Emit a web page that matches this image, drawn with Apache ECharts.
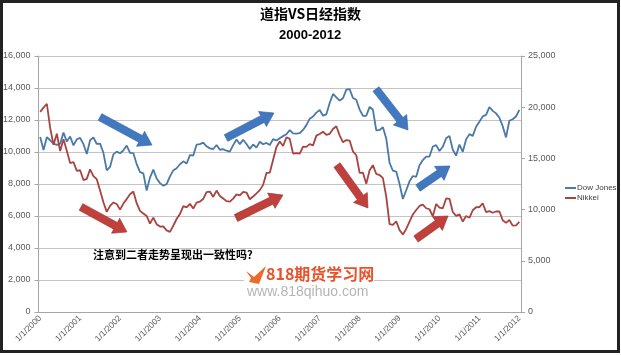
<!DOCTYPE html>
<html><head><meta charset="utf-8">
<script src="https://cdn.jsdelivr.net/npm/echarts@6/dist/echarts.min.js"></script>
<style>html,body{margin:0;padding:0;background:#fff}#c{width:621px;height:355px}</style>
</head><body><div id="c"></div>
<script>
// Monthly categories Jan 2000 .. Jan 2012 (labels in M/D/YYYY form)
const years = [2000,2001,2002,2003,2004,2005,2006,2007,2008,2009,2010,2011,2012];
const categories = [];
years.forEach(y => { for (let m = 1; m <= 12; m++) { if (y === 2012 && m > 1) break; categories.push(m + '/1/' + y); } });

// Dow Jones monthly closes (left axis)
const dowJones = [
  10940,10128,10922,10734,10522,10448,10522,11215,10651,10971,10415,10788,
  10887,10495,9879,10735,10912,10502,10523,9950,8848,9075,9852,10022,
  9920,10106,10404,9946,9925,9243,8737,8664,7592,8397,8896,8342,
  8054,7891,7992,8480,8850,8985,9234,9416,9275,9801,9782,10454,
  10488,10584,10358,10226,10188,10435,10140,10174,10080,10027,10428,10783,
  10490,10766,10504,10193,10467,10275,10641,10482,10569,10440,10806,10718,
  10865,10993,11109,11367,11168,11150,11186,11381,11679,12081,12221,12463,
  12622,12269,12354,13063,13628,13409,13212,13358,13896,13930,13372,13265,
  12650,12266,12263,12820,12638,11350,11378,11544,10851,9325,8829,8776,
  8001,7063,7609,8168,8500,8447,9172,9496,9712,9713,10345,10428,
  10067,10325,10857,11009,10137,9774,10466,10015,10788,11118,11006,11578,
  11892,12226,12320,12811,12570,12414,12143,11614,10913,11955,12046,12218,
  12633
];
// Nikkei 225 monthly closes (right axis)
const nikkei = [
  19540,19960,20337,17974,16332,17411,15727,16861,15747,14539,14649,13786,
  13843,12884,12999,13934,13262,12969,11861,10714,9775,10367,10697,10543,
  9998,10588,11025,11493,11764,10622,9877,9619,9383,8640,9216,8579,
  8340,8363,7973,7831,8425,9083,9563,10344,10219,10560,10101,10677,
  10784,11042,11715,11762,11237,11858,11326,11082,10824,10771,11069,11489,
  11388,11741,11669,11009,11277,11584,11900,12414,13574,13607,14872,16111,
  16650,16206,17060,16907,15467,15505,15457,16141,16128,16399,16274,17226,
  17383,17604,17288,17400,17876,18138,17249,16569,16786,16738,15681,15308,
  13592,13603,12526,13850,14339,13481,13377,13073,11260,8577,8512,8860,
  7994,7568,8110,8828,9523,9958,10357,10493,10133,10035,9346,10546,
  10198,10126,11090,11057,9769,9383,9537,8824,9369,9202,9937,10229,
  10238,10624,9755,9850,9694,9816,9833,8955,8700,8988,8435,8455,
  8803
];
const seriesNames = ['Dow Jones', 'Nikkei'];
const titleLines = ['道指VS日经指数', '2000-2012'];
const noteText = '注意到二者走势呈现出一致性吗？';

function arrow(x1, y1, x2, y2, fill, stroke) {
  const dx = x2 - x1, dy = y2 - y1, L = Math.hypot(dx, dy);
  const ux = dx / L, uy = dy / L, nx = -uy, ny = ux;
  const hw = 3.8, HW = 8.5, HL = 13;
  const bx = x2 - ux * HL, by = y2 - uy * HL;
  const pts = [
    [x1 + nx * hw, y1 + ny * hw], [bx + nx * hw, by + ny * hw], [bx + nx * HW, by + ny * HW],
    [x2, y2], [bx - nx * HW, by - ny * HW], [bx - nx * hw, by - ny * hw], [x1 - nx * hw, y1 - ny * hw]
  ];
  return { type: 'polygon', shape: { points: pts }, style: { fill: fill, stroke: stroke, lineWidth: 0.6 }, z: 20 };
}
const BLUE = '#4178c0', BLUE_S = '#2f5f9e', RED = '#c0403c', RED_S = '#9a2f2c';

const chart = echarts.init(document.getElementById('c'), null, { renderer: 'canvas' });
const axisLabelStyle = { color: '#595959', fontSize: 9, fontFamily: 'Liberation Sans, Arial, sans-serif' };
chart.setOption({
  animation: false,
  backgroundColor: '#fff',
  textStyle: { fontFamily: 'Liberation Sans, Arial, sans-serif' },
  grid: { left: 37, right: 100, top: 56, bottom: 43, containLabel: false },
  legend: {
    data: seriesNames, orient: 'vertical', left: 565, top: 183, padding: 0,
    icon: 'rect', itemWidth: 11, itemHeight: 2, itemGap: 0,
    textStyle: { fontSize: 8, fontFamily: 'Liberation Sans, Arial, sans-serif',
      color: '#404040', lineHeight: 10, padding: [0, 0, 0, -4] }
  },
  xAxis: {
    type: 'category', data: categories, boundaryGap: true,
    axisLine: { lineStyle: { color: '#a6a6a6' } },
    axisTick: { interval: 11, length: 4, lineStyle: { color: '#a6a6a6' } },
    axisLabel: { interval: 11, rotate: 45, margin: 5, fontSize: 8.5, color: '#595959' }
  },
  yAxis: [
    {
      type: 'value', min: 0, max: 16000, interval: 2000, position: 'left',
      axisLine: { show: true, lineStyle: { color: '#a6a6a6' } },
      axisTick: { show: true, length: 4, lineStyle: { color: '#a6a6a6' } },
      axisLabel: Object.assign({ margin: 8 }, axisLabelStyle),
      splitLine: { show: true, lineStyle: { color: '#c4c4c4', width: 1 } }
    },
    {
      type: 'value', min: 0, max: 25000, interval: 5000, position: 'right',
      axisLine: { show: true, lineStyle: { color: '#a6a6a6' } },
      axisTick: { show: true, length: 4, lineStyle: { color: '#a6a6a6' } },
      axisLabel: Object.assign({ margin: 7 }, axisLabelStyle),
      splitLine: { show: false }
    }
  ],
  series: [
    { name: seriesNames[0], type: 'line', yAxisIndex: 0, data: dowJones, showSymbol: false, symbol: 'none',
      lineStyle: { color: '#4a78a8', width: 1.8 }, itemStyle: { color: '#4a78a8' }, z: 3 },
    { name: seriesNames[1], type: 'line', yAxisIndex: 1, data: nikkei, showSymbol: false, symbol: 'none',
      lineStyle: { color: '#a8433f', width: 1.8 }, itemStyle: { color: '#a8433f' }, z: 3 }
  ],
  graphic: [
    { type: 'rect', shape: { x: 1.5, y: 1.5, width: 617, height: 350 }, style: { fill: 'none', stroke: '#222', lineWidth: 3 }, z: 50 },
    { type: 'text', left: 'center', top: 7, style: { text: titleLines[0], fill: '#000', font: 'bold 14px "Noto Sans CJK SC", sans-serif' }, z: 10 },
    { type: 'text', x: 279, y: 29, style: { text: titleLines[1], fill: '#000', font: 'bold 13px "Liberation Sans", Arial, sans-serif' }, z: 10 },
    { type: 'text', x: 93, y: 249, style: { text: noteText, fill: '#000', font: 'bold 11px "Noto Sans CJK SC", sans-serif' }, z: 10 },
    { type: 'rect', shape: { x: 244, y: 264, width: 130, height: 38 }, style: { fill: '#fff' }, z: 8 },
    { type: 'polygon', shape: { points: [[246, 271], [254, 277], [266, 266], [259, 284], [249, 282], [251, 278]] }, style: { fill: '#ec6a2a' }, z: 9 },
    { type: 'text', x: 266, y: 266, style: { text: '818期货学习网', fill: '#e8532c', font: 'bold 16px "Noto Sans CJK SC", sans-serif' }, z: 9 },
    { type: 'text', x: 247, y: 285, style: { text: 'www.818qihuo.com', fill: '#b5b5b5', font: '14px "Liberation Sans", Arial, sans-serif' }, z: 9 },
    arrow(100, 117, 152, 145, BLUE, BLUE_S),
    arrow(226, 138, 274, 113, BLUE, BLUE_S),
    arrow(376, 89, 408, 130, BLUE, BLUE_S),
    arrow(418, 188, 450, 166, BLUE, BLUE_S),
    arrow(81, 207, 127, 232, RED, RED_S),
    arrow(236, 218, 283, 195, RED, RED_S),
    arrow(337, 165, 368, 208, RED, RED_S),
    arrow(416, 239, 448, 216, RED, RED_S)
  ]
});
</script></body></html>
